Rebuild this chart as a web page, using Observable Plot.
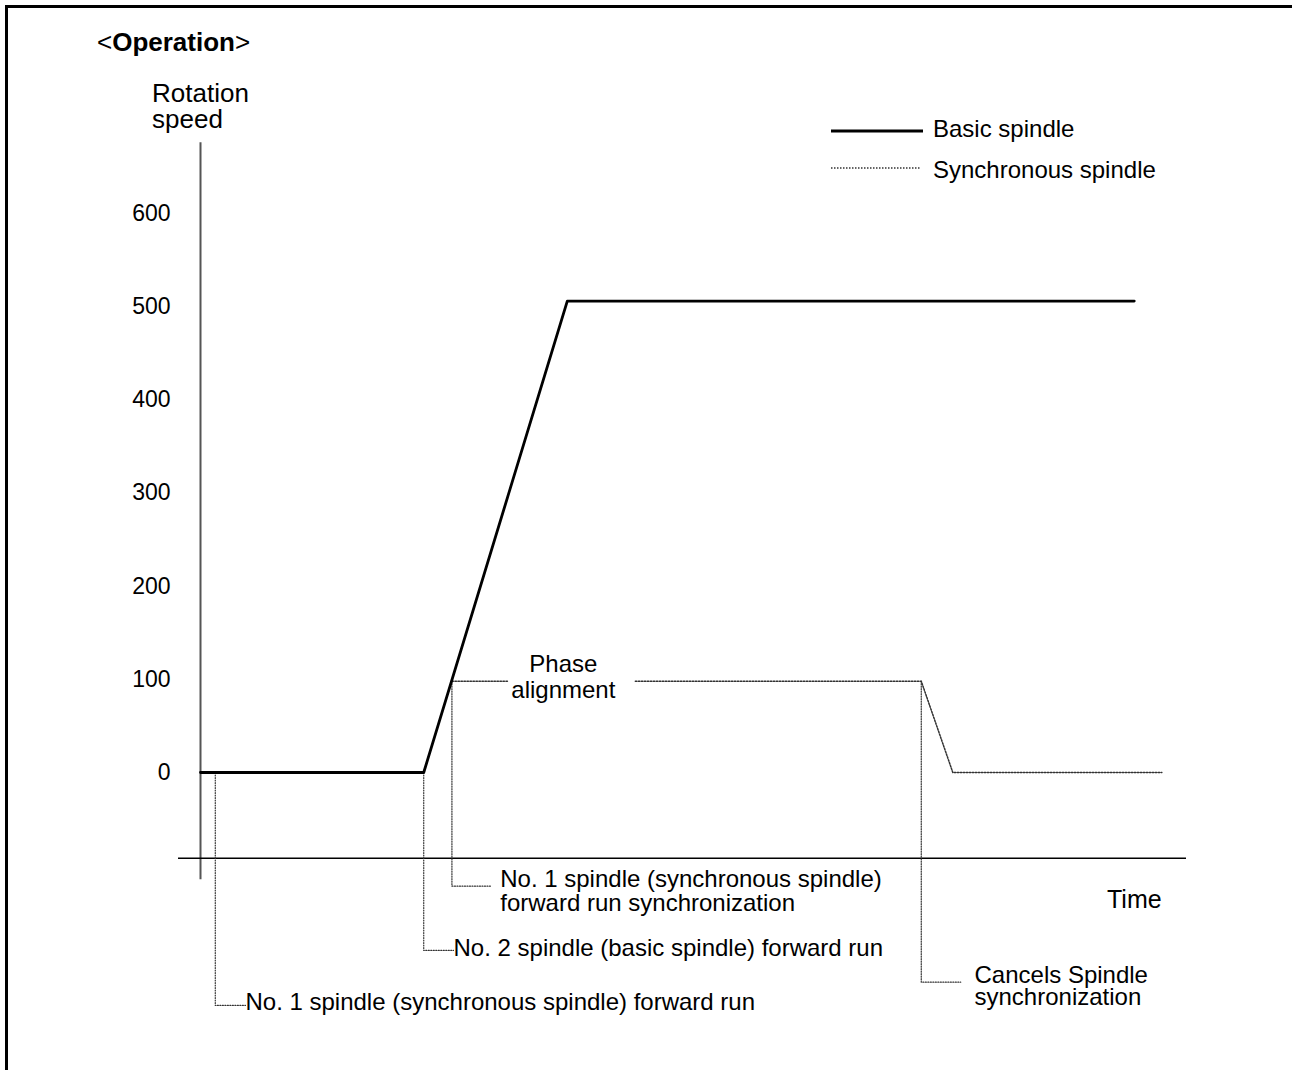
<!DOCTYPE html>
<html>
<head>
<meta charset="utf-8">
<script src="https://cdn.jsdelivr.net/npm/d3@7"></script>
<script src="https://cdn.jsdelivr.net/npm/@observablehq/plot@0.6"></script>
<style>
  body { margin: 0; background: #fff; font-family: "Liberation Sans", Arial, Helvetica, sans-serif; }
  #wrap { position: relative; width: 1292px; height: 1070px; overflow: hidden; background: #fff; }
  #frame { position: absolute; left: 5px; top: 5px; width: 1400px; height: 1200px; border-left: 3px solid #000; border-top: 3px solid #000; pointer-events: none; }
  #chart { position: absolute; left: 0; top: 0; }
  .lbl { position: absolute; color: #000; white-space: nowrap; }
  #title { left: 97px; top: 29px; font-size: 26px; line-height: 26px; }
  #ylabel { left: 152px; top: 80px; font-size: 26px; line-height: 26px; }
  #xlabel { left: 1107px; top: 887px; font-size: 25px; line-height: 25px; }
  .leg { position: absolute; left: 830px; display: flex; align-items: center; font-size: 24px; line-height: 24px; }
  .leg svg { margin-right: 9px; }
</style>
</head>
<body>
<div id="wrap">
  <div id="frame"></div>
  <div id="chart"></div>
  <div id="title" class="lbl">&lt;<b>Operation</b>&gt;</div>
  <div id="ylabel" class="lbl">Rotation<br>speed</div>
  <div id="xlabel" class="lbl">Time</div>
  <div id="legend"></div>
</div>
<script>
// ---- data ----
const yTicks = [0, 100, 200, 300, 400, 500, 600];

// Basic spindle (solid)
const basicTime  = [0, 2.264, 3.72, 9.47];
const basicSpeed = [0, 0, 506, 506];

// Synchronous spindle (dotted); null = gap behind "Phase alignment"
const syncTime  = [2.55, 3.12, 3.7, 4.41, 7.31, 7.63, 9.75];
const syncSpeed = [98, 98, null, 98, 98, 0, 0];

// Event annotations
const eventLabels = [
  "No. 1 spindle (synchronous spindle) forward run",
  "No. 2 spindle (basic spindle) forward run",
  "No. 1 spindle (synchronous spindle)\nforward run synchronization",
  "Cancels Spindle\nsynchronization"
];
const eventTime        = [0.15, 2.264, 2.55, 7.31];
const eventFromSpeed   = [0, 0, 98, 98];
const eventLeaderSpeed = [-250, -191, -122, -225];
const eventLeaderEnd   = [0.456, 2.566, 2.94, 7.71];
const eventTextTime    = [0.456, 2.566, 3.04, 7.85];
const eventTextSpeed   = [-247, -189, -127, -230];
const eventLineHeight  = [1, 1, 1.0, 0.92];

const phaseLabel = "Phase\nalignment";
const phaseTime = 3.68;
const phaseSpeed = 103;

// axes extents
const timeAxisSpeed = -92;
const timeAxisStart = -0.223;
const timeAxisEnd = 10;
const speedAxisTop = 676;
const speedAxisBottom = -115;

const legendLabels = ["Basic spindle", "Synchronous spindle"];
const legendDash = [null, "1.5 1.5"];

// ---- build tables ----
const basic = basicTime.map((t, i) => ({t, v: basicSpeed[i]}));
const sync = syncTime.map((t, i) => ({t, v: syncSpeed[i]}));
const leaders = [];
eventTime.forEach((t, i) => {
  leaders.push({id: i, t, v: eventFromSpeed[i]});
  leaders.push({id: i, t, v: eventLeaderSpeed[i]});
  leaders.push({id: i, t: eventLeaderEnd[i], v: eventLeaderSpeed[i]});
});
const events = eventLabels.map((label, i) => ({label, t: eventTextTime[i], v: eventTextSpeed[i], lh: eventLineHeight[i]}));

const FONT = "'Liberation Sans', Arial, Helvetica, sans-serif";
const DOT = "#333";

const chart = Plot.plot({
  width: 1292,
  height: 1070,
  marginLeft: 200,
  marginRight: 106,
  marginTop: 142,
  marginBottom: 190,
  x: {domain: [0, 10], range: [200, 1186], axis: null},
  y: {domain: [0, 600], range: [772, 213], axis: null},
  style: {fontFamily: FONT, fontSize: "23px", background: "transparent", color: "#000"},
  marks: [
    Plot.ruleX([0], {y1: speedAxisTop, y2: speedAxisBottom, stroke: "#555", strokeWidth: 2}),
    Plot.ruleY([timeAxisSpeed], {x1: timeAxisStart, x2: timeAxisEnd, stroke: "#000", strokeWidth: 1.5}),
    Plot.axisY(yTicks, {tickSize: 0, tickPadding: 30, fontSize: 23, label: null, tickFormat: d => String(d)}),
    Plot.line(leaders, {x: "t", y: "v", z: "id", stroke: DOT, strokeWidth: 1.2, strokeDasharray: "1 1.5"}),
    Plot.line(sync, {x: "t", y: "v", stroke: DOT, strokeWidth: 1.5, strokeDasharray: "1.5 1.5"}),
    Plot.line(basic, {x: "t", y: "v", stroke: "#000", strokeWidth: 2.8}),
    ...events.map(e => Plot.text([e], {x: "t", y: "v", text: "label", textAnchor: "start", lineAnchor: "middle", fontSize: 24, lineHeight: e.lh, fill: "#000"})),
    Plot.text([{t: phaseTime, v: phaseSpeed, label: phaseLabel}], {x: "t", y: "v", text: "label", textAnchor: "middle", lineAnchor: "middle", fontSize: 24, lineHeight: 1.1, fill: "#000"})
  ]
});
document.getElementById("chart").appendChild(chart);

// legend
const legend = document.getElementById("legend");
const legendTops = [117, 158];
legendLabels.forEach((label, i) => {
  const row = document.createElement("div");
  row.className = "leg";
  row.style.top = legendTops[i] + "px";
  const dash = legendDash[i];
  row.innerHTML = `<svg width="94" height="24"><line x1="1" x2="${dash ? 91 : 93}" y1="${dash ? 10 : 14}" y2="${dash ? 10 : 14}" stroke="${dash ? DOT : '#000'}" stroke-width="${dash ? 1.5 : 2.8}" ${dash ? `stroke-dasharray="${dash}"` : ''}/></svg><span>${label}</span>`;
  legend.appendChild(row);
});
</script>
</body>
</html>
